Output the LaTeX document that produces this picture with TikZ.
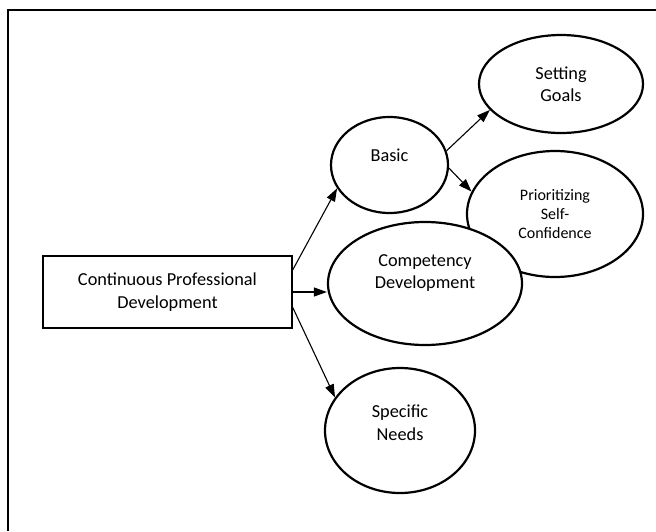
\documentclass[tikz,border=0pt]{standalone}
\usepackage{fontspec}
\setmainfont{Carlito}
\usepackage{tikz}
\usetikzlibrary{arrows.meta,positioning,shapes.geometric,calc}

\begin{document}
\begin{tikzpicture}[
        x=1pt,y=-1pt,
        font=\fontsize{18.3}{22.5}\selectfont,
        >={Triangle[length=13pt,width=9pt]},
        topic/.style={rectangle,draw,line width=1.4pt,fill=white,minimum width=249pt,minimum height=72pt,align=center,inner sep=0pt},
        bubble/.style={ellipse,draw,line width=2.2pt,fill=white,align=center,inner sep=0pt},
        arrow/.style={->,line width=1.1pt}
    ]
        \useasboundingbox (0,0) rectangle (656,531);
        \draw[line width=2pt] (8,531) -- (8,10) -- (656,10);

        \node[topic] (cpd) at (167.5,292) {Continuous Professional\\Development};
        \node[bubble,minimum width=117pt,minimum height=96pt,text depth=20pt] (basic) at (389.5,165) {Basic};
        \node[bubble,minimum width=164pt,minimum height=98pt] (goals) at (561,84) {Setting\\Goals};
        \node[bubble,minimum width=176pt,minimum height=126pt,font=\fontsize{16}{19}\selectfont] (prio) at (555,214) {Prioritizing\\Self-\\Confidence};
        \node[bubble,minimum width=194pt,minimum height=123pt,text depth=24pt] (comp) at (425,283.5) {Competency\\Development};
        \node[bubble,minimum width=150pt,minimum height=125pt,text depth=16pt] (needs) at (400,430.5) {Specific\\Needs};

        \draw[arrow] (cpd.10) -- (basic.204);
        \draw[arrow] (cpd.east) -- (cpd.east -| comp.west);
        \draw[arrow] (cpd.-7) -- (needs.153);
        \draw[arrow] (basic.14) -- (goals.200);
        \draw[arrow] (basic.-3) -- (prio.165);
    \end{tikzpicture}
\end{document}
